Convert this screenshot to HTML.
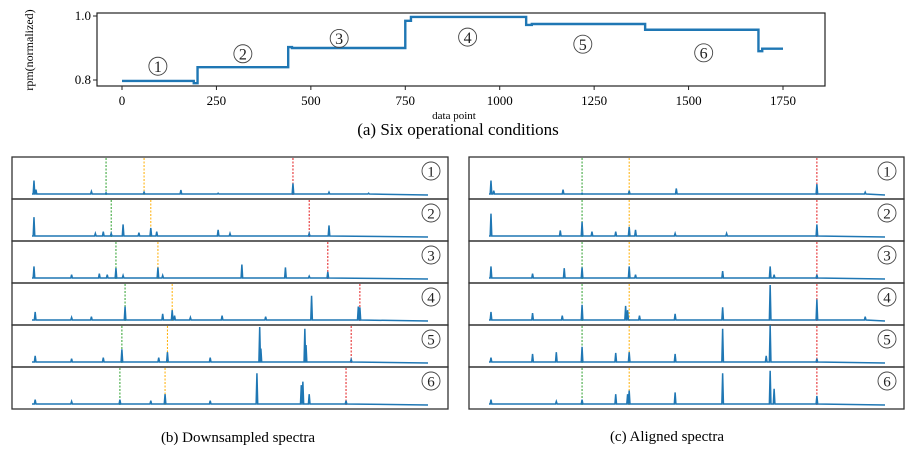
<!DOCTYPE html>
<html><head><meta charset="utf-8"><style>
body{margin:0;background:#fff;width:916px;height:449px;overflow:hidden;font-family:"Liberation Serif",serif}
svg text{font-family:"Liberation Serif",serif}
</style></head><body>
<svg id="fig" width="916" height="449" viewBox="0 0 916 449" xmlns="http://www.w3.org/2000/svg">
<rect width="916" height="449" fill="#fff"/>
<g id="topchart"></g>
<g id="left"></g>
<g id="right"></g>
<text x="458" y="135" font-size="17" text-anchor="middle">(a) Six operational conditions</text>
<text x="238" y="442" font-size="15" text-anchor="middle">(b) Downsampled spectra</text>
<text x="667" y="441" font-size="15" text-anchor="middle">(c) Aligned spectra</text>
</svg>
<script>
// top chart data
const stepStarts=[0,190,200,440,450,750,765,1070,1085,1385,1685,1695];
const stepValues=[0.797,0.79,0.84,0.903,0.9,0.985,0.997,0.972,0.975,0.957,0.89,0.898];
const stepEnd=1750;
const xTicks=[0,250,500,750,1000,1250,1500,1750];
const yTicks=[0.8,1.0];
const condLabels=["1","2","3","4","5","6"];
const condX=[95,320,575,915,1220,1540];
const condY=[0.843,0.882,0.93,0.934,0.912,0.885];
// spectra: peak positions (0-100 frequency) and heights (0-1)
const leftGreen=[18.7,20,21.2,23.5,22.7,22.2];
const leftOrange=[28.3,30,31.8,35.4,34.2,33.6];
const leftRed=[65.9,70,74.7,82.8,80.6,79.3];
const rightMarks=[23.5,35.4,82.8];
const leftPeakPos=[
[0.5,1,15,18.7,28.3,37.6,47,65.9,75,85],
[0.5,16,18,20,23,27,30,31.5,47,50,70,75],
[0.5,10,17,19,21.2,23,31.8,33,53,64,74.7,70],
[0.8,10,15,23.5,33,35.4,36,40,48,59,70.6,82.4,82.8],
[0.8,10,18,22.7,32,34.2,45,57.5,57.8,68.9,69.2,80.6],
[0.8,10,22.2,30,33.6,45,56.8,68,68.4,70,79.3]];
const leftPeakH=[
[0.4,0.15,0.1,0.06,0.08,0.14,0.05,0.32,0.08,0.05],
[0.55,0.1,0.15,0.1,0.35,0.12,0.25,0.15,0.2,0.1,0.1,0.32],
[0.35,0.12,0.15,0.12,0.3,0.1,0.32,0.1,0.4,0.32,0.2,0.08],
[0.25,0.1,0.12,0.4,0.2,0.3,0.15,0.1,0.15,0.12,0.7,0.4,0.38],
[0.2,0.12,0.15,0.38,0.15,0.3,0.15,1.0,0.4,0.95,0.5,0.1],
[0.15,0.1,0.15,0.12,0.3,0.12,0.88,0.55,0.65,0.3,0.12]];
const rightPeakPos=[
[0.5,1.2,18.7,23.5,35.4,47.3,82.8,95],
[0.5,18,23.5,26,32,35.4,37,47,60,82.8],
[0.5,11,19,23.5,35.4,37,59,71,72,82.8],
[0.5,11,18.5,23.5,34.5,35,38,47,59,71,82.8,95],
[0.5,11,17,23.5,32,35.4,47,59,71,70,82.8],
[0.5,17,23.5,32,35,35.4,47,59,71,72,82.8]];
const rightPeakH=[
[0.4,0.12,0.15,0.05,0.12,0.18,0.3,0.08],
[0.65,0.18,0.42,0.15,0.15,0.28,0.2,0.1,0.1,0.35],
[0.35,0.15,0.3,0.32,0.35,0.12,0.22,0.35,0.12,0.12],
[0.25,0.22,0.15,0.45,0.42,0.3,0.15,0.2,0.38,1.0,0.6,0.12],
[0.15,0.25,0.3,0.45,0.28,0.3,0.25,0.95,1.05,0.2,0.12],
[0.15,0.1,0.15,0.3,0.3,0.4,0.35,0.88,0.95,0.45,0.25]];

const NS="http://www.w3.org/2000/svg";
function mk(p,tag,attrs){const e=document.createElementNS(NS,tag);for(const k in attrs)e.setAttribute(k,attrs[k]);p.appendChild(e);return e;}
const blue="#1f77b4";
// top chart
const topG=document.getElementById('topchart');
const tx=v=>122+v*(783-122)/1750, ty=v=>80-(v-0.8)*(64/0.2);
let fr=mk(topG,'rect',{x:97,y:13,width:728,height:73,fill:'none',stroke:'#222','stroke-width':1.2});


let d='';
stepStarts.forEach((s,i)=>{const e=i<stepStarts.length-1?stepStarts[i+1]:stepEnd;
 d+=(i?'L':'M')+tx(s)+','+ty(stepValues[i])+'L'+tx(e)+','+ty(stepValues[i]);});
let ln=mk(topG,'path',{d:d,fill:'none',stroke:blue,'stroke-width':2.4});


xTicks.forEach(v=>{mk(topG,'line',{x1:tx(v),x2:tx(v),y1:86,y2:90,stroke:'#222'});
 const t=mk(topG,'text',{x:tx(v),y:105,'font-size':13,'text-anchor':'middle'});t.textContent=v;
 
 });
yTicks.forEach(v=>{mk(topG,'line',{x1:93,x2:97,y1:ty(v),y2:ty(v),stroke:'#222'});
 const t=mk(topG,'text',{x:91,y:ty(v)+4,'font-size':13,'text-anchor':'end'});t.textContent=v.toFixed(1);
 
 });
let xl=mk(topG,'text',{x:454,y:119,'font-size':11,'text-anchor':'middle'});xl.textContent='data point';


let yl=mk(topG,'text',{x:0,y:0,'font-size':12,'text-anchor':'middle',transform:'translate(33,50) rotate(-90)'});yl.textContent='rpm(normalized)';


function circ(p,x,y,r,label,fs){const g=mk(p,'g',{});
 
 
 mk(g,'circle',{cx:x,cy:y,r:r,fill:'none',stroke:'#444','stroke-width':0.9});
 const t=mk(g,'text',{x:x,y:y+fs*0.36,'font-size':fs,'text-anchor':'middle',fill:'#222'});t.textContent=label;}
condLabels.forEach((l,i)=>circ(topG,tx(condX[i]),ty(condY[i]),9,l,16));
// spectra
function panels(gid,x0,x1,sx0,greens,oranges,reds,pos,hts){
 const g=document.getElementById(gid);
 const rows=[157,199,241,283,325,367,409];
 const sx=f=>sx0+f*3.96;
 for(let i=0;i<6;i++){const y0=rows[i],y1=rows[i+1],base=y1-4;
  const pg=mk(g,'g',{});
  
  
  mk(pg,'rect',{x:x0,y:y0,width:x1-x0,height:y1-y0,fill:'none',stroke:'#333','stroke-width':1.3});
  [[greens[i],'#2ca02c'],[oranges[i],'#ffae00'],[reds[i],'#e31a1c']].forEach(([f,c])=>{
   const l=mk(pg,'line',{x1:sx(f),x2:sx(f),y1:y0+1,y2:base,stroke:c,'stroke-width':1,'stroke-dasharray':'2,1.5'});
   
   });
  const idx=pos[i].map((p,k)=>k).sort((a,b)=>pos[i][a]-pos[i][b]);
  let p='M'+sx(0)+','+(base-1);
  idx.forEach(k=>{const x=sx(pos[i][k]);p+='L'+(x-0.8)+','+(base-1)+'L'+x+','+(base-hts[i][k]*36)+'L'+(x+0.8)+','+(base-1);});
  p+='L'+sx(100)+','+(base);
  const sp=mk(pg,'path',{d:p,fill:'none',stroke:blue,'stroke-width':1.5});
  
  
  circ(pg,x1-17,y0+14,9,String(i+1),15);
 }}
panels('left',12,448,32,leftGreen,leftOrange,leftRed,leftPeakPos,leftPeakH);
panels('right',469,904,489,Array(6).fill(rightMarks[0]),Array(6).fill(rightMarks[1]),Array(6).fill(rightMarks[2]),rightPeakPos,rightPeakH);
</script>
</body></html>
